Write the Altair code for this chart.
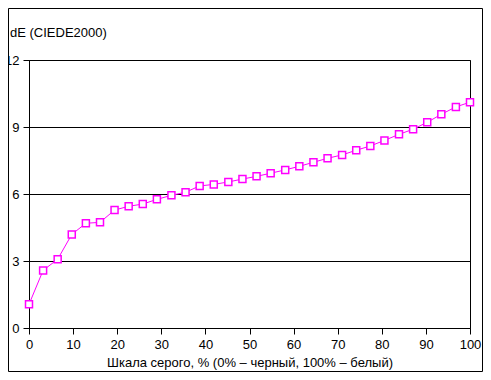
import altair as alt
import pandas as pd

gray_pct = [0, 3.2, 6.5, 9.7, 12.9, 16.1, 19.4, 22.6, 25.8, 29.0, 32.3, 35.5, 38.7, 41.9,
            45.2, 48.4, 51.6, 54.8, 58.1, 61.3, 64.5, 67.7, 71.0, 74.2, 77.4, 80.6, 83.9,
            87.1, 90.3, 93.5, 96.8, 100]
de_values = [1.06, 2.58, 3.08, 4.19, 4.69, 4.73, 5.28, 5.45, 5.55, 5.76, 5.94, 6.08, 6.36,
             6.43, 6.54, 6.67, 6.79, 6.93, 7.08, 7.24, 7.42, 7.60, 7.75, 7.96, 8.15, 8.40,
             8.67, 8.90, 9.21, 9.57, 9.90, 10.11]
x_ticks = [0, 10, 20, 30, 40, 50, 60, 70, 80, 90, 100]
y_ticks = [0, 3, 6, 9, 12]
y_title = "dE (CIEDE2000)"
x_title = "Шкала серого, % (0% – черный, 100% – белый)"

df = pd.DataFrame({"x": gray_pct, "y": de_values})
FONT = "Liberation Sans"

xenc = alt.X("x:Q", scale=alt.Scale(domain=[0, 100], nice=False, zero=False),
             axis=alt.Axis(values=x_ticks, title=x_title, grid=False, labelFlush=False,
                           labelOverlap=False, titlePadding=5, labelPadding=4))
yenc = alt.Y("y:Q", scale=alt.Scale(domain=[0, 12], nice=False),
             axis=alt.Axis(values=y_ticks, title=None, grid=True, gridColor="black",
                           gridOpacity=1, gridWidth=1, labelPadding=4, labelFlush=False,
                           labelOverlap=False))

line = alt.Chart(df).mark_line(color="#FF00FF", strokeWidth=1).encode(x=xenc, y=yenc)
pts = alt.Chart(df).mark_point(shape="square", size=49, filled=False, fill="white",
                               fillOpacity=1, stroke="#FF00FF", strokeWidth=1.5,
                               opacity=1).encode(x="x:Q", y="y:Q")

tdf = pd.DataFrame({"t": [y_title]})
title = alt.Chart(tdf).mark_text(align="left", baseline="alphabetic", font=FONT,
                                 fontSize=13, color="black").encode(
    x=alt.value(-19), y=alt.value(-23), text="t:N")

border = alt.Chart(tdf).mark_rect(fill=None, stroke="black", strokeWidth=1).encode(
    x=alt.value(-20.5), x2=alt.value(453.5), y=alt.value(-51.5), y2=alt.value(311.5))

chart = alt.layer(border, line, pts, title).properties(
    width=441, height=268,
    autosize=alt.AutoSizeParams(type="none"),
    padding={"left": 21, "top": 52, "right": 13, "bottom": 44},
).configure(background="white").configure_view(stroke="black", strokeWidth=1).configure_axis(
    labelFont=FONT, labelFontSize=13, labelColor="black",
    titleFont=FONT, titleFontSize=13, titleColor="black", titleFontWeight="normal",
    tickColor="black", tickSize=6, domainColor="black", domainWidth=1,
)

chart.save("out.html", embed_options={"renderer": "svg", "actions": False})
